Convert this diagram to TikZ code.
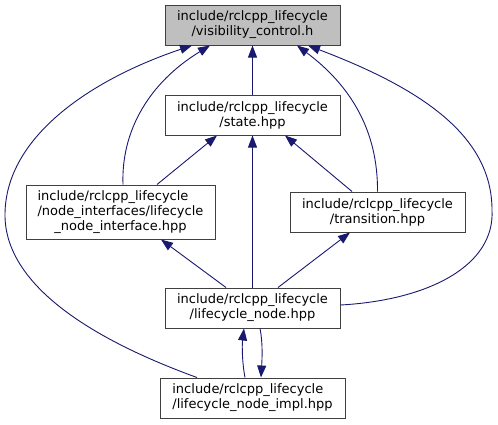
\documentclass[tikz,border=0pt]{standalone}
\usepackage{fontspec}
\setmainfont{DejaVu Sans}
\usetikzlibrary{arrows.meta}
\definecolor{edgec}{HTML}{191970}
\definecolor{boxgray}{HTML}{BFBFBF}
\begin{document}
\begin{tikzpicture}[x=1pt,y=-1pt,
  box/.style={draw=black!75, line width=1pt, minimum height=40pt, inner sep=0pt,
    font=\fontsize{13}{15}\selectfont, align=center, fill=white},
  edge/.style={draw=edgec, line width=0.9pt, -{Triangle[length=12pt,width=9pt]}}]
\fill[white] (0,0) rectangle (498,424);
\useasboundingbox (0,0) rectangle (498,424);

\node[box, fill=boxgray, minimum width=175pt] (vis) at (252.5,25) {include/rclcpp\_lifecycle\\/visibility\_control.h};
\node[box, minimum width=175pt] (state) at (252.5,115) {include/rclcpp\_lifecycle\\/state.hpp};
\node[box, minimum width=189pt, minimum height=54pt] (iface) at (120.5,212) {\begin{tabular}{@{}l@{}}include/rclcpp\_lifecycle\\/node\_interfaces/lifecycle\\\multicolumn{1}{@{}c@{}}{\_node\_interface.hpp}\end{tabular}};
\node[box, minimum width=175pt] (trans) at (377.5,212) {include/rclcpp\_lifecycle\\/transition.hpp};
\node[box, minimum width=175pt] (lnode) at (252.5,308) {include/rclcpp\_lifecycle\\/lifecycle\_node.hpp};
\node[box, minimum width=185pt] (impl) at (252.5,398) {\begin{tabular}{@{}l@{}}include/rclcpp\_lifecycle\\/lifecycle\_node\_impl.hpp\end{tabular}};

\draw[edge] (state.north) -- (vis.south);
\draw[edge] ([xshift=2.5pt]iface.north) .. controls (121,130) and (150,82) .. ([xshift=-42.5pt]vis.south);
\draw[edge] ([xshift=-55.5pt]impl.north) .. controls (80,335) and (5,280) .. (5,215) .. controls (5,135) and (95,78) .. ([xshift=-60.5pt]vis.south);
\draw[edge] (trans.north) .. controls (378,130) and (350,85) .. ([xshift=44.5pt]vis.south);
\draw[edge] ([yshift=3pt]lnode.east) .. controls (430,300) and (495,265) .. (492,210) .. controls (492,135) and (420,88) .. ([xshift=55.5pt]vis.south);

\draw[edge] ([xshift=36.5pt]iface.north) -- ([xshift=-35.5pt]state.south);
\draw[edge] (lnode.north) -- (state.south);
\draw[edge] ([xshift=-25.5pt]trans.north) -- ([xshift=32.5pt]state.south);

\draw[edge] ([xshift=-26.5pt]lnode.north) -- ([xshift=40.5pt]iface.south);
\draw[edge] ([xshift=25.5pt]lnode.north) -- ([xshift=-27.5pt]trans.south);

\draw[edge] ([xshift=-7.5pt]impl.north) .. controls (242,362) and (242,345) .. ([xshift=-8.5pt]lnode.south);
\draw[edge] ([xshift=7.5pt]lnode.south) .. controls (263,343) and (262,360) .. ([xshift=8.5pt]impl.north);
\end{tikzpicture}
\end{document}
